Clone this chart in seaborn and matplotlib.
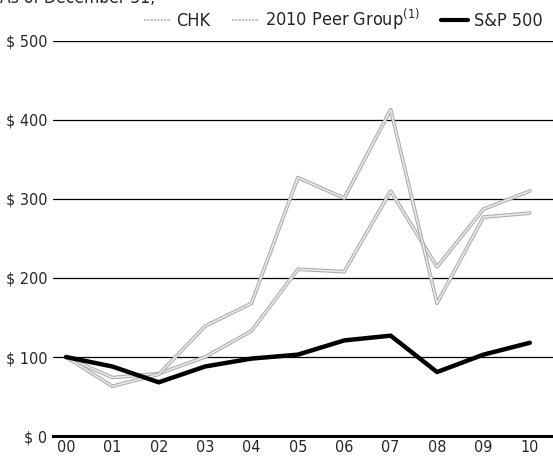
import matplotlib
matplotlib.use("Agg")
import matplotlib.pyplot as plt
import matplotlib.patheffects as pe
from matplotlib.lines import Line2D
import pandas
import seaborn as sns

years = ["00", "01", "02", "03", "04", "05", "06", "07", "08", "09", "10"]
chk = [100, 63, 78, 139, 168, 327, 301, 413, 168, 277, 282]
peer = [100, 74, 79, 100, 133, 211, 208, 310, 214, 287, 310]
sp500 = [100, 88, 68, 88, 98, 103, 121, 127, 81, 103, 118]
y_ticks = [0, 100, 200, 300, 400, 500]
y_labels = ["$ 0", "$ 100", "$ 200", "$ 300", "$ 400", "$ 500"]

sns.set_style("white")
plt.rcParams["font.family"] = ["DejaVu Sans"]
plt.rcParams["font.stretch"] = "condensed"

df = pandas.DataFrame({
    "pos": list(range(len(years))) * 3,
    "value": chk + peer + sp500,
    "series": ["CHK"] * len(years) + ["2010 Peer Group"] * len(years) + ["S&P 500"] * len(years),
})

fig = plt.figure(figsize=(5.53, 4.59), dpi=100)
ax = fig.add_axes([0.0958, 0.050, 0.9042, 0.861])

gray_fx = [pe.Stroke(linewidth=2.6, foreground="#a8a8a8"), pe.Normal()]

ax.yaxis.grid(True, color="black", linewidth=0.9)
ax.set_axisbelow(True)

sns.lineplot(data=df[df.series == "2010 Peer Group"], x="pos", y="value",
             color="#e8e8e8", linewidth=1.2, ax=ax, legend=False,
             path_effects=gray_fx)
sns.lineplot(data=df[df.series == "CHK"], x="pos", y="value",
             color="#e8e8e8", linewidth=1.2, ax=ax, legend=False,
             path_effects=gray_fx)
sns.lineplot(data=df[df.series == "S&P 500"], x="pos", y="value",
             color="black", linewidth=3.2, ax=ax, legend=False)

ax.set_xlim(-0.28, 10.5)
ax.set_ylim(0, 500)
ax.set_yticks(y_ticks)
ax.set_yticklabels(y_labels)
ax.set_xticks(range(len(years)))
ax.set_xticklabels(years)
ax.set_xlabel("")
ax.set_ylabel("")
ax.tick_params(axis="both", length=0, labelsize=11.5)
ax.tick_params(axis="y", pad=4)
ax.tick_params(axis="x", pad=3)
for side in ["top", "right", "left"]:
    ax.spines[side].set_visible(False)
ax.spines["bottom"].set_linewidth(2.2)
ax.spines["bottom"].set_color("black")

handles = [
    Line2D([], [], color="#c0c0c0", linewidth=1.5, linestyle=(0, (1, 0.6))),
    Line2D([], [], color="#c0c0c0", linewidth=1.5, linestyle=(0, (1, 0.6))),
    Line2D([], [], color="black", linewidth=3),
]
labels = ["CHK", "2010 Peer Group$^{\\mathregular{(1)}}$", "S&P 500"]
fig.legend(handles, labels, loc="upper right", bbox_to_anchor=(1.01, 1.02),
           ncol=3, frameon=False, handlelength=1.5,
           handletextpad=0.3, columnspacing=1.2,
           prop={"size": 13, "stretch": "condensed"})

fig.text(0.0, 0.985, "As of December 31,", fontsize=12.5, va="bottom", ha="left")

fig.savefig("out.png", dpi=100)
